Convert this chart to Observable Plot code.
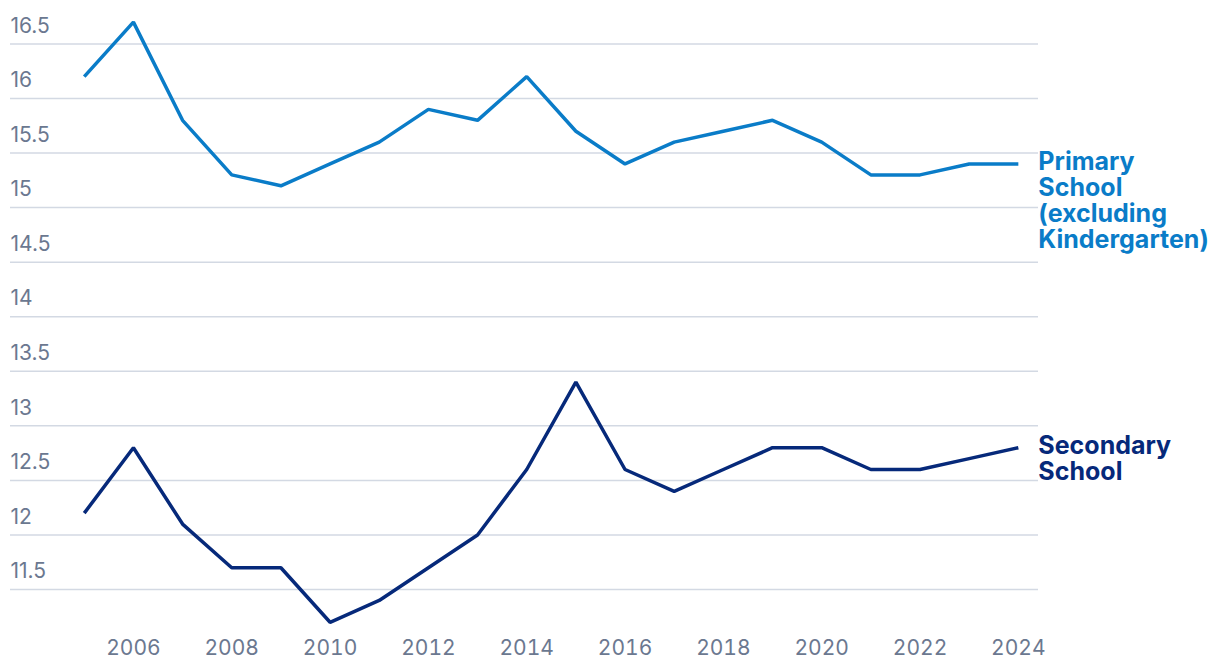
<!DOCTYPE html>
<html>
<head>
<meta charset="utf-8">
<script src="https://cdn.jsdelivr.net/npm/d3@7"></script>
<script src="https://cdn.jsdelivr.net/npm/@observablehq/plot@0.6"></script>
<style>
  html, body { margin: 0; padding: 0; background: #ffffff; }
  #chart svg { display: block; }
</style>
</head>
<body>
<div id="chart"></div>
<script>
const years = [2005, 2006, 2007, 2008, 2009, 2010, 2011, 2012, 2013, 2014, 2015, 2016, 2017, 2018, 2019, 2020, 2021, 2022, 2023, 2024];
const primary = [16.2, 16.7, 15.8, 15.3, 15.2, 15.4, 15.6, 15.9, 15.8, 16.2, 15.7, 15.4, 15.6, 15.7, 15.8, 15.6, 15.3, 15.3, 15.4, 15.4];
const secondary = [12.2, 12.8, 12.1, 11.7, 11.7, 11.2, 11.4, 11.7, 12.0, 12.6, 13.4, 12.6, 12.4, 12.6, 12.8, 12.8, 12.6, 12.6, 12.7, 12.8];
const seriesNames = ["Primary School (excluding Kindergarten)", "Secondary School"];
const seriesLabels = [["Primary", "School", "(excluding", "Kindergarten)"], ["Secondary", "School"]];
const seriesColors = ["#0a7cc8", "#06297a"];
const yTicks = [11.5, 12, 12.5, 13, 13.5, 14, 14.5, 15, 15.5, 16, 16.5];
const xTicks = [2006, 2008, 2010, 2012, 2014, 2016, 2018, 2020, 2022, 2024];

const rows = [];
years.forEach((yr, i) => {
  rows.push({year: yr, value: primary[i], series: seriesNames[0]});
  rows.push({year: yr, value: secondary[i], series: seriesNames[1]});
});
const lineGap = 26;
const endLabels = [];
seriesNames.forEach((s, i) => {
  const vals = [primary, secondary][i];
  seriesLabels[i].forEach((txt, j) => {
    endLabels.push({
      year: years[years.length - 1],
      value: vals[years.length - 1],
      series: s,
      label: txt,
      offset: j * lineGap
    });
  });
});

const chart = Plot.plot({
  width: 1220,
  height: 668,
  marginLeft: 10,
  marginRight: 182,
  marginTop: 0,
  marginBottom: 40,
  style: {fontFamily: "Inter, 'Noto Sans', sans-serif", background: "#ffffff"},
  x: {domain: [2003.50, 2024.41], axis: null},
  y: {domain: [11.143, 16.898], axis: null},
  color: {domain: seriesNames, range: seriesColors},
  marks: [
    Plot.ruleY(yTicks, {stroke: "#d3d9e3", strokeWidth: 1.5}),
    Plot.text(yTicks, {
      x: 2003.50, y: d => d, text: d => String(d),
      textAnchor: "start", dy: -18, fontSize: 21, fill: "#6b7890", fontWeight: 400
    }),
    Plot.axisX({
      ticks: xTicks, tickFormat: d => String(d), tickSize: 0, tickPadding: 12,
      fontSize: 21, color: "#6b7890", anchor: "bottom", label: null
    }),
    Plot.line(rows, {
      x: "year", y: "value", z: "series", stroke: "series",
      strokeWidth: 3.5, strokeLinejoin: "miter", strokeLinecap: "butt"
    }),
    ...endLabels.map(d => Plot.text([d], {
      x: "year", y: "value", text: "label", fill: "series",
      textAnchor: "start", dx: 20, dy: d.offset - 2,
      fontSize: 25, fontWeight: 700
    }))
  ]
});
document.getElementById("chart").appendChild(chart);
</script>
</body>
</html>
